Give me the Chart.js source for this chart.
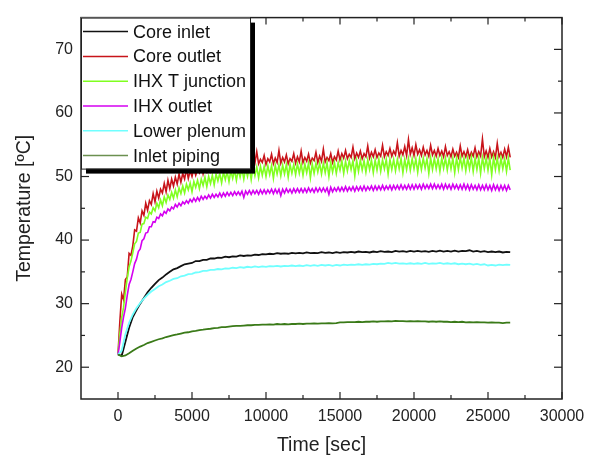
<!DOCTYPE html>
<html>
<head>
<meta charset="utf-8">
<script src="https://cdn.jsdelivr.net/npm/chart.js@4.4.0/dist/chart.umd.min.js"></script>
<style>
  html, body { margin: 0; padding: 0; background: #fff; }
  #wrap { width: 597px; height: 456px; }
</style>
</head>
<body>
<div id="wrap"><canvas id="chart" width="597" height="456"></canvas></div>
<script>
// time axis, seconds (smooth series are logged every 250 s, noisy ones every 125 s)
const timeSec = [
  0, 250, 500, 750, 1000, 1250, 1500, 1750, 2000, 2250,
  2500, 2750, 3000, 3250, 3500, 3750, 4000, 4250, 4500, 4750,
  5000, 5250, 5500, 5750, 6000, 6250, 6500, 6750, 7000, 7250,
  7500, 7750, 8000, 8250, 8500, 8750, 9000, 9250, 9500, 9750,
  10000, 10250, 10500, 10750, 11000, 11250, 11500, 11750, 12000, 12250,
  12500, 12750, 13000, 13250, 13500, 13750, 14000, 14250, 14500, 14750,
  15000, 15250, 15500, 15750, 16000, 16250, 16500, 16750, 17000, 17250,
  17500, 17750, 18000, 18250, 18500, 18750, 19000, 19250, 19500, 19750,
  20000, 20250, 20500, 20750, 21000, 21250, 21500, 21750, 22000, 22250,
  22500, 22750, 23000, 23250, 23500, 23750, 24000, 24250, 24500, 24750,
  25000, 25250, 25500, 25750, 26000, 26250, 26500
];

const timeFineSec = [
  0, 125, 250, 375, 500, 625, 750, 875, 1000, 1125,
  1250, 1375, 1500, 1625, 1750, 1875, 2000, 2125, 2250, 2375,
  2500, 2625, 2750, 2875, 3000, 3125, 3250, 3375, 3500, 3625,
  3750, 3875, 4000, 4125, 4250, 4375, 4500, 4625, 4750, 4875,
  5000, 5125, 5250, 5375, 5500, 5625, 5750, 5875, 6000, 6125,
  6250, 6375, 6500, 6625, 6750, 6875, 7000, 7125, 7250, 7375,
  7500, 7625, 7750, 7875, 8000, 8125, 8250, 8375, 8500, 8625,
  8750, 8875, 9000, 9125, 9250, 9375, 9500, 9625, 9750, 9875,
  10000, 10125, 10250, 10375, 10500, 10625, 10750, 10875, 11000, 11125,
  11250, 11375, 11500, 11625, 11750, 11875, 12000, 12125, 12250, 12375,
  12500, 12625, 12750, 12875, 13000, 13125, 13250, 13375, 13500, 13625,
  13750, 13875, 14000, 14125, 14250, 14375, 14500, 14625, 14750, 14875,
  15000, 15125, 15250, 15375, 15500, 15625, 15750, 15875, 16000, 16125,
  16250, 16375, 16500, 16625, 16750, 16875, 17000, 17125, 17250, 17375,
  17500, 17625, 17750, 17875, 18000, 18125, 18250, 18375, 18500, 18625,
  18750, 18875, 19000, 19125, 19250, 19375, 19500, 19625, 19750, 19875,
  20000, 20125, 20250, 20375, 20500, 20625, 20750, 20875, 21000, 21125,
  21250, 21375, 21500, 21625, 21750, 21875, 22000, 22125, 22250, 22375,
  22500, 22625, 22750, 22875, 23000, 23125, 23250, 23375, 23500, 23625,
  23750, 23875, 24000, 24125, 24250, 24375, 24500, 24625, 24750, 24875,
  25000, 25125, 25250, 25375, 25500, 25625, 25750, 25875, 26000, 26125,
  26250, 26375, 26500
];

const coreInlet = [
  22.0, 21.8, 24.0, 26.2, 27.9, 29.0, 30.0, 30.9, 31.8, 32.5,
  33.1, 33.7, 34.1, 34.6, 35.0, 35.4, 35.6, 35.9, 36.2, 36.3,
  36.4, 36.7, 36.7, 36.9, 36.9, 37.1, 37.1, 37.25, 37.2, 37.4,
  37.3, 37.45, 37.4, 37.6, 37.5, 37.6, 37.55, 37.7, 37.65, 37.8,
  37.75, 37.85, 37.8, 37.95, 37.85, 37.9, 37.85, 38.0, 37.9, 38.0,
  37.9, 38.05, 37.95, 38.0, 37.95, 38.1, 38.0, 38.05, 37.95, 38.1,
  38.0, 38.1, 38.05, 38.15, 38.05, 38.2, 38.1, 38.15, 38.05, 38.2,
  38.1, 38.25, 38.15, 38.2, 38.1, 38.3, 38.2, 38.25, 38.15, 38.3,
  38.2, 38.3, 38.2, 38.25, 38.15, 38.3, 38.2, 38.35, 38.2, 38.3,
  38.2, 38.35, 38.2, 38.3, 38.25, 38.4, 38.2, 38.3, 38.15, 38.25,
  38.1, 38.2, 38.1, 38.2, 38.05, 38.15, 38.1
];

const coreOutlet = [
  22.0, 27.2, 31.5, 30.6, 33.8, 34.2, 37.9, 37.6, 39.1, 41.6,
  41.4, 43.5, 42.7, 44.6, 43.9, 45.8, 44.7, 46.2, 45.6, 47.3,
  46.0, 47.7, 46.6, 48.0, 47.4, 48.9, 47.6, 49.4, 48.1, 49.6,
  48.5, 49.9, 48.8, 50.4, 49.1, 50.5, 49.6, 51.2, 49.7, 50.9,
  50.0, 51.3, 50.2, 51.1, 50.6, 52.0, 50.4, 51.6, 50.8, 52.3,
  50.9, 51.8, 51.2, 52.8, 51.0, 52.2, 51.3, 52.5, 51.4, 52.0,
  51.5, 53.1, 51.6, 52.4, 51.7, 52.9, 51.9, 53.6, 51.8, 52.6,
  52.0, 53.2, 51.9, 52.8, 52.1, 53.9, 52.0, 52.7, 52.2, 53.3,
  51.9, 52.8, 52.3, 53.5, 52.0, 52.9, 52.2, 54.1, 52.1, 53.0,
  52.3, 53.4, 52.0, 52.8, 52.4, 53.6, 52.1, 53.1, 52.3, 54.0,
  52.2, 53.0, 52.4, 53.5, 52.1, 52.9, 52.5, 53.8, 52.2, 53.2,
  52.4, 54.3, 52.3, 53.0, 52.5, 53.6, 52.2, 53.1, 52.6, 54.0,
  52.6, 53.6, 52.9, 54.1, 52.8, 53.5, 53.0, 54.6, 52.8, 53.7,
  53.0, 54.0, 52.8, 53.6, 53.1, 54.8, 52.9, 53.8, 53.1, 54.2,
  53.0, 53.7, 53.2, 54.9, 53.1, 53.9, 53.3, 54.4, 53.2, 54.0,
  53.4, 55.3, 53.2, 54.1, 53.4, 54.7, 53.3, 55.8, 53.5, 54.5,
  53.3, 55.0, 53.5, 54.2, 53.3, 54.6, 53.4, 54.1, 53.2, 54.9,
  53.4, 54.1, 53.2, 54.4, 53.3, 54.0, 53.1, 54.7, 53.3, 53.9,
  53.1, 54.3, 53.2, 53.8, 53.0, 54.8, 53.2, 53.9, 53.1, 54.2,
  53.0, 53.8, 53.2, 54.5, 53.1, 53.9, 53.2, 55.9, 53.1, 54.0,
  53.0, 54.4, 53.1, 53.9, 53.0, 55.2, 53.1, 53.8, 53.0, 54.3,
  53.1, 54.6, 53.0
];

const ihxTJunction = [
  22.0, 25.3, 27.8, 29.4, 31.8, 34.0, 35.8, 36.7, 38.0, 39.4,
  39.8, 41.1, 41.2, 42.5, 42.6, 43.6, 43.4, 44.4, 44.1, 45.1,
  44.6, 45.8, 45.1, 46.3, 45.4, 46.8, 45.9, 47.1, 46.4, 47.5,
  46.6, 47.9, 46.8, 48.2, 47.3, 48.5, 47.4, 48.8, 47.9, 49.0,
  47.6, 49.2, 48.3, 49.4, 48.1, 49.6, 48.6, 49.9, 48.4, 50.0,
  48.9, 50.2, 48.7, 50.4, 49.3, 50.5, 49.0, 50.7, 49.5, 50.8,
  49.2, 50.9, 49.7, 51.0, 49.4, 51.1, 49.9, 51.2, 49.6, 51.3,
  50.0, 51.4, 49.5, 51.5, 50.1, 51.5, 49.8, 51.6, 50.2, 51.6,
  50.0, 51.7, 50.3, 51.7, 49.7, 51.8, 50.4, 51.8, 50.1, 51.8,
  50.4, 51.9, 49.9, 51.9, 50.5, 51.9, 50.3, 52.0, 50.5, 52.0,
  50.2, 52.0, 50.6, 52.1, 49.8, 52.0, 50.5, 52.1, 50.7, 52.1,
  50.4, 52.1, 50.6, 52.2, 50.0, 52.2, 50.7, 52.2, 50.5, 52.2,
  51.0, 52.5, 50.5, 52.4, 50.9, 52.5, 51.1, 52.5, 50.1, 52.5,
  50.8, 52.6, 51.0, 52.5, 50.7, 52.6, 51.1, 52.6, 50.6, 52.6,
  51.0, 52.7, 50.8, 52.6, 51.2, 52.7, 50.4, 52.7, 51.1, 52.7,
  50.9, 52.7, 51.2, 52.8, 50.6, 52.7, 51.1, 52.8, 51.0, 52.8,
  51.2, 52.8, 50.7, 52.8, 51.1, 52.9, 51.3, 52.8, 50.5, 52.9,
  51.1, 52.9, 51.2, 52.8, 50.8, 52.9, 51.3, 52.9, 51.0, 52.8,
  51.2, 52.9, 50.6, 52.9, 51.1, 53.0, 51.3, 52.9, 50.9, 52.9,
  51.2, 53.0, 50.8, 52.9, 51.1, 52.9, 50.5, 53.0, 51.2, 52.9,
  51.0, 52.9, 50.3, 53.0, 51.1, 52.9, 50.9, 52.9, 51.2, 52.8,
  50.8, 52.9, 51.0
];

const ihxOutlet = [
  22.0, 24.0, 26.2, 27.9, 29.3, 31.3, 33.0, 33.8, 35.0, 36.3,
  37.0, 38.2, 38.6, 39.9, 40.2, 41.1, 41.2, 42.1, 42.1, 42.9,
  42.8, 43.6, 43.4, 44.1, 43.8, 44.5, 44.2, 44.9, 44.6, 45.2,
  44.9, 45.6, 45.2, 45.8, 45.4, 46.0, 45.7, 46.2, 45.8, 46.4,
  46.0, 46.6, 46.1, 46.7, 46.2, 46.9, 46.4, 46.9, 46.5, 47.1,
  46.6, 47.2, 46.7, 47.2, 46.8, 47.4, 46.8, 47.4, 46.9, 47.5,
  47.0, 47.5, 47.0, 47.6, 47.1, 47.6, 47.1, 47.7, 46.7, 47.7,
  47.2, 47.8, 47.2, 47.8, 47.3, 47.8, 47.2, 47.9, 47.3, 47.9,
  47.3, 47.9, 47.4, 48.0, 47.3, 48.0, 47.4, 48.0, 47.0, 48.0,
  47.4, 48.1, 47.5, 48.0, 47.4, 48.1, 47.5, 48.1, 47.5, 48.1,
  47.5, 48.1, 47.5, 48.2, 47.6, 48.1, 47.5, 48.2, 47.6, 48.2,
  47.6, 48.2, 47.6, 48.2, 47.2, 48.3, 47.6, 48.2, 47.7, 48.3,
  47.7, 48.3, 47.7, 48.4, 47.7, 48.3, 47.8, 48.4, 47.7, 48.4,
  47.8, 48.4, 47.8, 48.5, 47.8, 48.4, 47.9, 48.5, 47.8, 48.5,
  47.9, 48.5, 47.9, 48.6, 47.9, 48.5, 48.0, 48.6, 47.9, 48.6,
  48.0, 48.6, 48.0, 48.7, 48.0, 48.6, 48.0, 48.7, 48.0, 48.7,
  48.0, 48.7, 48.1, 48.7, 48.0, 48.8, 48.1, 48.7, 48.1, 48.8,
  48.1, 48.8, 48.1, 48.7, 48.1, 48.8, 48.0, 48.8, 48.1, 48.7,
  48.0, 48.8, 48.1, 48.7, 48.0, 48.7, 48.0, 48.8, 48.0, 48.7,
  47.9, 48.7, 48.0, 48.6, 47.9, 48.7, 47.9, 48.6, 47.9, 48.7,
  47.9, 48.6, 47.8, 48.7, 47.9, 48.6, 47.8, 48.6, 47.9, 48.6,
  47.8, 48.6, 47.9
];

const lowerPlenum = [
  22.0, 22.6, 25.2, 27.0, 28.3, 29.3, 30.1, 30.8, 31.4, 31.9,
  32.3, 32.75, 33.0, 33.4, 33.6, 33.9, 34.0, 34.3, 34.4, 34.65,
  34.7, 34.9, 34.95, 35.15, 35.15, 35.3, 35.3, 35.45, 35.4, 35.55,
  35.5, 35.65, 35.6, 35.75, 35.65, 35.8, 35.7, 35.85, 35.75, 35.85,
  35.8, 35.9, 35.85, 35.95, 35.85, 35.95, 35.9, 36.0, 35.9, 36.0,
  35.9, 36.05, 35.95, 36.05, 35.95, 36.1, 36.0, 36.1, 35.95, 36.1,
  36.0, 36.15, 36.05, 36.15, 36.1, 36.2, 36.1, 36.2, 36.15, 36.25,
  36.2, 36.3, 36.25, 36.4, 36.3, 36.4, 36.3, 36.35, 36.25, 36.35,
  36.25, 36.35, 36.25, 36.4, 36.25, 36.35, 36.3, 36.4, 36.25, 36.35,
  36.25, 36.35, 36.2, 36.3, 36.2, 36.3, 36.15, 36.25, 36.1, 36.2,
  36.0, 36.1, 36.0, 36.15, 36.05, 36.15, 36.1
];

const inletPiping = [
  22.0, 21.7, 21.85, 22.2, 22.6, 22.95, 23.25, 23.5, 23.8, 24.0,
  24.2, 24.4, 24.55, 24.75, 24.9, 25.05, 25.15, 25.3, 25.45, 25.5,
  25.65, 25.7, 25.85, 25.9, 26.0, 26.05, 26.15, 26.2, 26.3, 26.3,
  26.4, 26.45, 26.5, 26.5, 26.55, 26.6, 26.6, 26.65, 26.65, 26.7,
  26.7, 26.75, 26.7, 26.8, 26.75, 26.8, 26.75, 26.8, 26.8, 26.85,
  26.8, 26.85, 26.85, 26.9, 26.85, 26.9, 26.9, 26.95, 26.9, 26.95,
  27.05, 27.05, 27.1, 27.1, 27.1, 27.15, 27.1, 27.15, 27.15, 27.2,
  27.15, 27.2, 27.2, 27.25, 27.2, 27.3, 27.25, 27.25, 27.2, 27.25,
  27.2, 27.25, 27.2, 27.2, 27.15, 27.2, 27.15, 27.2, 27.15, 27.15,
  27.1, 27.15, 27.1, 27.15, 27.05, 27.1, 27.05, 27.1, 27.05, 27.05,
  27.0, 27.05, 27.0, 27.0, 26.95, 27.0, 27.0
];

const seriesNames = ['Core inlet', 'Core outlet', 'IHX T junction', 'IHX outlet', 'Lower plenum', 'Inlet piping'];
const seriesValues = [coreInlet, coreOutlet, ihxTJunction, ihxOutlet, lowerPlenum, inletPiping];
const seriesTimes = [timeSec, timeFineSec, timeFineSec, timeFineSec, timeSec, timeSec];
const seriesColors = ['#111111', '#c8141a', '#80ff20', '#d400f0', '#70ffff', '#3a7a18'];
const legendColors = ['#111111', '#c8141a', '#80ff20', '#d400f0', '#70ffff', '#6b9050'];

const xTicks = [0, 5000, 10000, 15000, 20000, 25000, 30000];
const xMinorTicks = [2500, 7500, 12500, 17500, 22500, 27500];
const yTicks = [20, 30, 40, 50, 60, 70];
const yMinorTicks = [25, 35, 45, 55, 65];

const FONT = '"Liberation Sans", Arial, sans-serif';

const framePlugin = {
    id: 'frame',
    afterDatasetsDraw(chart) {
        const { ctx, chartArea: a, scales: { x, y } } = chart;
        ctx.save();
        ctx.strokeStyle = '#222';
        ctx.lineWidth = 1.5;
        ctx.strokeRect(a.left, a.top, a.right - a.left, a.bottom - a.top);

        ctx.lineWidth = 1.2;
        const line = (x1, y1, x2, y2) => {
            ctx.beginPath(); ctx.moveTo(x1, y1); ctx.lineTo(x2, y2); ctx.stroke();
        };
        const xMarks = (vals, len) => vals.forEach(v => {
            const px = x.getPixelForValue(v);
            line(px, a.bottom, px, a.bottom - len);
            line(px, a.top, px, a.top + len);
        });
        const yMarks = (vals, len) => vals.forEach(v => {
            const py = y.getPixelForValue(v);
            line(a.left, py, a.left + len, py);
            line(a.right, py, a.right - len, py);
        });
        xMarks(xTicks, 7); xMarks(xMinorTicks, 4);
        yMarks(yTicks, 8); yMarks(yMinorTicks, 4);

        // legend box with shadow, over the plot
        const bx = a.left, by = a.top, bw = 169, bh = 151;
        ctx.fillStyle = '#000';
        ctx.fillRect(bx + 5, by + 5, bw, bh);
        ctx.fillStyle = '#fff';
        ctx.fillRect(bx, by, bw, bh);
        ctx.strokeStyle = '#222';
        ctx.lineWidth = 1;
        ctx.strokeRect(bx + 0.5, by + 0.5, bw, bh);

        ctx.font = '18px ' + FONT;
        ctx.textBaseline = 'middle';
        ctx.textAlign = 'left';
        seriesNames.forEach((name, i) => {
            const ry = by + 14 + i * 24.8;
            ctx.strokeStyle = legendColors[i];
            ctx.lineWidth = 1.5;
            line(bx + 2, ry, bx + 47, ry);
            ctx.fillStyle = '#111';
            ctx.fillText(name, bx + 52, ry + 1);
        });
        ctx.restore();
    }
};

const datasets = seriesNames.map((name, i) => ({
    label: name,
    data: seriesTimes[i].map((t, j) => ({ x: t, y: seriesValues[i][j] })),
    borderColor: seriesColors[i],
    borderWidth: i === 0 || i === 4 || i === 5 ? 1.8 : 1.6,
    pointRadius: 0,
    tension: 0,
    fill: false,
    order: 6 - i
}));

new Chart(document.getElementById('chart').getContext('2d'), {
    type: 'line',
    data: { datasets },
    options: {
        responsive: false,
        animation: false,
        devicePixelRatio: 1,
        layout: { padding: { top: 13, right: 35, left: 0, bottom: 0 } },
        plugins: { legend: { display: false }, tooltip: { enabled: false } },
        scales: {
            x: {
                type: 'linear',
                min: -2500,
                max: 30000,
                afterBuildTicks: scale => { scale.ticks = xTicks.map(v => ({ value: v })); },
                afterFit: scale => { scale.height = 57; },
                grid: { display: false, drawTicks: false },
                border: { display: false },
                ticks: {
                    padding: 8, color: '#222', font: { family: FONT, size: 16 },
                    callback: v => String(v)
                },
                title: {
                    display: true,
                    text: 'Time [sec]',
                    color: '#222',
                    font: { family: FONT, size: 19.5, lineHeight: 1 },
                    padding: { top: 0, bottom: 1 }
                }
            },
            y: {
                type: 'linear',
                min: 15,
                max: 75,
                afterBuildTicks: scale => { scale.ticks = yTicks.map(v => ({ value: v })); },
                afterFit: scale => { scale.width = 81; },
                grid: { display: false, drawTicks: false },
                border: { display: false },
                ticks: {
                    padding: 8, color: '#222', font: { family: FONT, size: 16 },
                    callback: v => String(v)
                },
                title: {
                    display: true,
                    text: 'Temperature [ºC]',
                    color: '#222',
                    font: { family: FONT, size: 19.5, lineHeight: 1.2 },
                    padding: { top: 13, bottom: 0 }
                }
            }
        }
    },
    plugins: [framePlugin]
});
</script>
</body>
</html>
